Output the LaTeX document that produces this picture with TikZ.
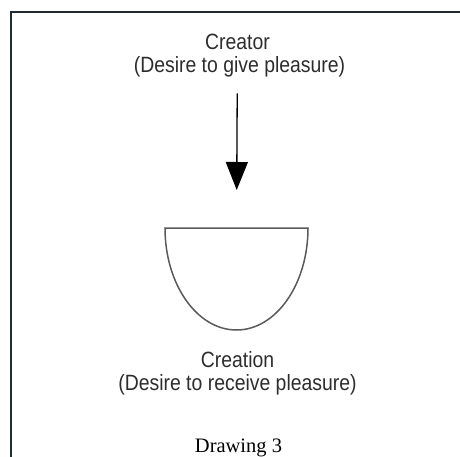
\documentclass[tikz,border=0pt]{standalone}
\usepackage{fontspec}
\setmainfont{Liberation Serif}
\setsansfont{Liberation Sans}
\usepackage{xcolor}
\usepackage{graphicx}
\usepackage{tikz}
\usetikzlibrary{arrows.meta, positioning}
\definecolor{framedark}{RGB}{30, 42, 52}
\definecolor{bowlgray}{RGB}{90, 90, 90}
\definecolor{labelgray}{RGB}{45, 45, 45}
\newcommand{\tall}[1]{\scalebox{1}[1.14]{#1}}

\begin{document}
\begin{tikzpicture}[
    x=1pt, y=-1pt,
    label/.style={anchor=base, inner sep=0pt, text=labelgray, font=\sffamily\fontsize{19.4}{22}\selectfont},
    frameline/.style={draw=framedark, line width=2pt},
    bowlline/.style={draw=bowlgray, line width=1.5pt},
    arrow/.style={-{Triangle[length=28pt, width=22pt]}, line width=1.3pt, black}
]
\useasboundingbox (0,0) rectangle (460,457);

% frame
\draw[frameline] (11,457) -- (11,12) -- (460,12);

\node[label] (creator) at (237.5,50) {\tall{Creator}};
\node[label] (giving) at (239.5,73) {\tall{(Desire to give pleasure)}};

% bowl
\coordinate (bowl) at (236.5,228);
\draw[bowlline] (308,228) arc[start angle=0, end angle=180, x radius=71.5, y radius=102] -- cycle;

\node[label] (creation) at (237.5,367) {\tall{Creation}};
\node[label] (receiving) at (237.5,390) {\tall{(Desire to receive pleasure)}};

\node[anchor=base, inner sep=0pt, font=\fontsize{20.5}{24}\selectfont] (caption) at (238.5,452) {Drawing 3};

\draw[arrow, shorten <=43pt, shorten >=38pt] (creator) -- (bowl);

\end{tikzpicture}
\end{document}
